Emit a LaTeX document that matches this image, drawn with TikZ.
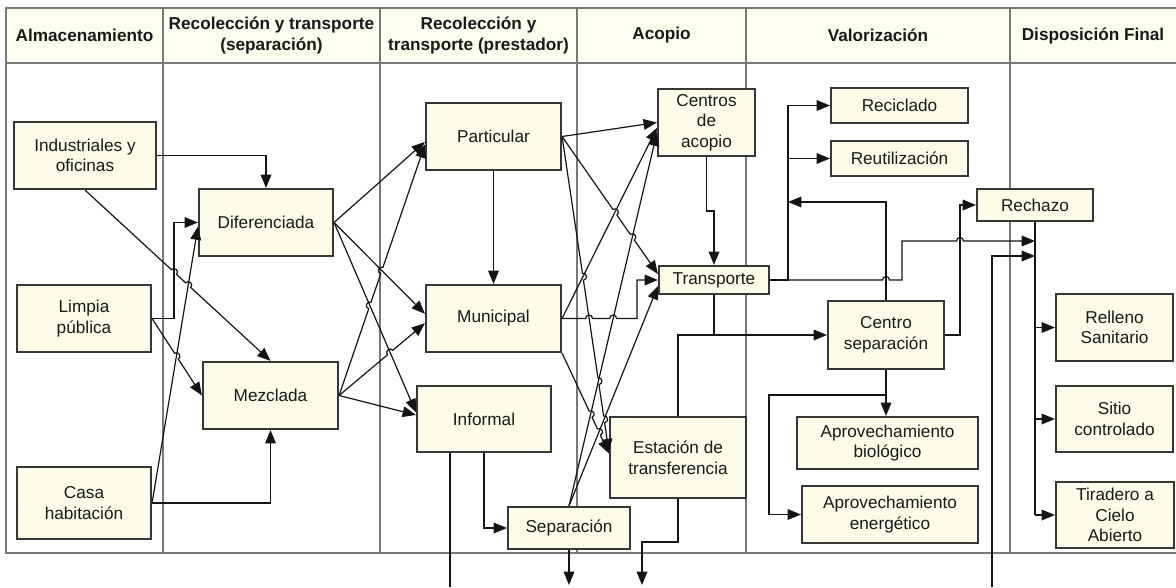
\documentclass[tikz,border=0pt]{standalone}
\usepackage{fontspec}
\setmainfont{Liberation Sans}
\usetikzlibrary{calc,arrows.meta,shadows}
\definecolor{nodefill}{RGB}{252,252,232}
\definecolor{headfill}{RGB}{255,255,240}
\definecolor{gridc}{RGB}{120,120,120}
\definecolor{edgec}{RGB}{55,55,55}
\definecolor{linec}{RGB}{20,20,20}
\definecolor{txt}{RGB}{25,25,25}
\newcommand\mkhop[3]{%
  \coordinate (#1a) at ($(#1)!2.6pt!(#2)$);
  \coordinate (#1b) at ($(#1)!2.6pt!(#3)$);
  \coordinate (#1c) at ($(#1a)!0.667!90:(#1b)$);
  \coordinate (#1d) at ($(#1b)!0.667!-90:(#1a)$);}
\newcommand\hop[1]{-- (#1a) .. controls (#1c) and (#1d) .. (#1b)}
\begin{document}
\begin{tikzpicture}[x=0.75pt,y=-0.75pt,
  box/.style={draw=edgec,line width=1.6pt,fill=nodefill,align=center,text=txt,inner sep=1pt,
    font=\fontsize{12.9}{15.5}\selectfont,
    drop shadow={shadow xshift=1pt,shadow yshift=-1pt,opacity=0.3}},
  sz/.style 2 args={minimum width=#1*0.75pt,minimum height=#2*0.75pt},
  head/.style={align=center,font=\bfseries\fontsize{12.9}{16}\selectfont,text=txt},
  arr/.style={draw=linec,line width=0.9pt,-{Triangle[length=10pt,width=8pt]}},
  ln/.style={draw=linec,line width=0.9pt},
  grid/.style={draw=gridc,line width=1pt}]
\useasboundingbox (0,0) rectangle (1176,587);
% table
\fill[headfill] (6,8) rectangle (1176,63);
\draw[grid] (1176,8) -- (6,8) -- (6,553) -- (1176,553);
\foreach \x in {163,380,577,746,1010} \draw[grid] (\x,8) -- (\x,553);
\draw[gridc,line width=1.8pt] (6,63) -- (1176,63);
\node[head] (hA) at (84.5,35.5) {Almacenamiento};
\node[head] (hB) at (271.5,35.5) {Recolección y transporte\\(separación)};
\node[head] (hC) at (478.5,35.5) {Recolección y\\transporte (prestador)};
\node[head] (hD) at (661.5,35.5) {Acopio};
\node[head] (hE) at (878,35.5) {Valorización};
\node[head] (hF) at (1093,35.5) {Disposición Final};
% nodes
\node[box,sz={142}{67}] (I) at (85,155.5) {Industriales y\\oficinas};
\node[box,sz={134}{67}] (L) at (84,318.5) {Limpia\\pública};
\node[box,sz={134}{72}] (C) at (84,503) {Casa\\habitación};
\node[box,sz={134}{67}] (D) at (266,222.5) {Diferenciada};
\node[box,sz={135}{67}] (Mz) at (270.5,395.5) {Mezclada};
\node[box,sz={135}{67}] (P) at (493.5,136.5) {Particular};
\node[box,sz={135}{67}] (M) at (493.5,318.5) {Municipal};
\node[box,sz={134}{66}] (Inf) at (484,419) {Informal};
\node[box,sz={122}{42}] (S) at (569,528) {Separación};
\node[box,sz={97}{67}] (CA) at (706.5,122.5) {Centros\\de\\acopio};
\node[box,sz={110}{28}] (T) at (714,280) {Transporte};
\node[box,sz={136}{81}] (E) at (678,457.5) {Estación de\\transferencia};
\node[box,sz={137}{35}] (Rc) at (899.5,105.5) {Reciclado};
\node[box,sz={137}{35}] (Ru) at (899.5,158.5) {Reutilización};
\node[box,sz={116}{32}] (Rz) at (1035,205) {Rechazo};
\node[box,sz={116}{68}] (CS) at (886,335) {Centro\\separación};
\node[box,sz={181}{52}] (AB) at (887.5,443) {Aprovechamiento\\biológico};
\node[box,sz={176}{57}] (AE) at (890,514.5) {Aprovechamiento\\energético};
\node[box,sz={117}{67}] (RS) at (1114.5,327.5) {Relleno\\Sanitario};
\node[box,sz={117}{66}] (SI) at (1114.5,419) {Sitio\\controlado};
\node[box,sz={118}{66}] (TA) at (1115,515) {Tiradero a\\Cielo\\Abierto};
% ---- left zone
\draw[arr] (I.east) -| (D.north);
\coordinate (ld1) at (174,318.5);
\coordinate (ld2) at (174,222.5);
\draw[arr] (L.east) -- (ld1) -- (ld2) -- (D.west);
\coordinate (cdE) at ([yshift=-3pt]D.west);
\draw[arr] (C.east) -- (cdE);
\draw[arr] (C.east) -| (Mz.south);
\coordinate (j1) at (intersection of I.south--Mz.north and ld1--ld2);
\coordinate (j2) at (intersection of I.south--Mz.north and C.east--cdE);
\mkhop{j1}{I.south}{Mz.north}
\mkhop{j2}{I.south}{Mz.north}
\draw[arr] (I.south) \hop{j1} \hop{j2} -- (Mz.north);
\coordinate (j3) at (intersection of L.east--Mz.west and C.east--cdE);
\mkhop{j3}{L.east}{Mz.west}
\draw[arr] (L.east) \hop{j3} -- (Mz.west);
% ---- middle zone 1
\coordinate (dp) at ([yshift=-4pt]P.west);
\coordinate (mp) at ([yshift=-6pt]P.west);
\coordinate (dm) at ([yshift=3.5pt]M.west);
\coordinate (mm) at ([yshift=-3.5pt]M.west);
\coordinate (di) at ([yshift=5pt]Inf.west);
\coordinate (mi) at ([yshift=3pt]Inf.west);
\draw[arr] (D.east) -- (dp);
\draw[arr] (D.east) -- (dm);
\draw[arr] (D.east) -- (di);
\coordinate (j4) at (intersection of Mz.east--mp and D.east--di);
\coordinate (j5) at (intersection of Mz.east--mp and D.east--dm);
\coordinate (j6) at (intersection of Mz.east--mm and D.east--di);
\mkhop{j4}{Mz.east}{mp}
\mkhop{j5}{Mz.east}{mp}
\mkhop{j6}{Mz.east}{mm}
\draw[arr] (Mz.east) \hop{j4} \hop{j5} -- (mp);
\draw[arr] (Mz.east) \hop{j6} -- (mm);
\draw[arr] (Mz.east) -- (mi);
% ---- middle zone 2
\draw[arr] (P.south) -- (M.north);
\coordinate (cMC) at ([yshift=-4pt]CA.west);
\coordinate (cSC) at ([yshift=-7.5pt]CA.west);
\coordinate (cPT) at ([yshift=4.5pt]T.west);
\coordinate (cST) at ([yshift=-4.5pt]T.west);
\coordinate (cPE) at ([yshift=4pt]E.west);
\coordinate (cME) at ([yshift=3pt]E.west);
\coordinate (mse) at (M.south east);
\coordinate (mt1) at (637,318.5);
\coordinate (mt2) at (637,280);
\draw[arr] (P.east) -- (CA.west);
\draw[arr] (M.east) -- (cMC);
\draw[arr] (S.north) -- (cSC);
\draw[arr] (S.north) -- (cST);
\coordinate (j7) at (intersection of P.east--cPT and M.east--cMC);
\coordinate (j8) at (intersection of P.east--cPT and S.north--cSC);
\mkhop{j7}{P.east}{cPT}
\mkhop{j8}{P.east}{cPT}
\draw[arr] (P.east) \hop{j7} \hop{j8} -- (cPT);
\coordinate (j9) at (intersection of P.east--cPE and M.east--cMC);
\coordinate (j10) at (intersection of P.east--cPE and S.north--cSC);
\coordinate (j11) at (intersection of P.east--cPE and S.north--cST);
\mkhop{j9}{P.east}{cPE}
\mkhop{j10}{P.east}{cPE}
\mkhop{j11}{P.east}{cPE}
\draw[arr] (P.east) \hop{j9} \hop{j10} \hop{j11} -- (cPE);
\coordinate (j12) at (intersection of M.east--mt1 and P.east--cPE);
\coordinate (j13) at (intersection of M.east--mt1 and S.north--cSC);
\mkhop{j12}{M.east}{mt1}
\mkhop{j13}{M.east}{mt1}
\draw[arr] (M.east) \hop{j12} \hop{j13} -- (mt1) -- (mt2) -- (T.west);
\coordinate (j14) at (intersection of mse--cME and S.north--cSC);
\coordinate (j15) at (intersection of mse--cME and S.north--cST);
\mkhop{j14}{mse}{cME}
\mkhop{j15}{mse}{cME}
\draw[arr] (mse) \hop{j14} \hop{j15} -- (cME);
\coordinate (ct) at (710,211);
\draw[arr] (CA.south) |- (ct) -| (T.north);
% ---- right zone
\coordinate (busV) at (788,280);
\draw[arr] (T.east) -- (busV) |- (Rc.west);
\draw[arr] (busV |- Ru.west) -- (Ru.west);
\coordinate (k1) at (902,280);
\coordinate (k2) at (902,241);
\coordinate (k3) at (k2 -| Rz.south);
\coordinate (crz) at (960,205);
\coordinate (j16) at (CS.north |- T.east);
\coordinate (j17) at (crz |- k2);
\mkhop{j16}{T.east}{k1}
\mkhop{j17}{k2}{k3}
\draw[arr] (T.east) \hop{j16} -- (k1) -- (k2) \hop{j17} -- (k3);
\coordinate (q) at (788,202);
\draw[arr] (CS.north) |- (q);
\draw[arr] (CS.east) -| (crz) -- (Rz.west);
\draw[arr] (CS.south) -- (CS.south |- AB.north);
\coordinate (ae1) at (886,395);
\coordinate (ae2) at (769,395);
\draw[arr] (ae1) -- (ae2) |- (AE.west);
\coordinate (tb) at (T.south |- CS.west);
\draw[arr] (T.south) -- (tb) -- (CS.west);
\draw[ln] (E.north) |- (tb);
\draw[ln] (Rz.south) -- (Rz.south |- TA.west);
\draw[arr] (Rz.south |- RS.west) -- (RS.west);
\draw[arr] (Rz.south |- SI.west) -- (SI.west);
\draw[arr] (Rz.south |- TA.west) -- (TA.west);
\coordinate (bin) at (992,587);
\coordinate (b2) at (992,256);
\draw[arr] (bin) -- (b2) -- (b2 -| Rz.south);
% ---- bottom exits
\coordinate (infout) at (450,587);
\draw[ln] ([xshift=-25.5pt]Inf.south) -- (infout);
\draw[arr] (Inf.south) |- (S.west);
\coordinate (sout) at (569,585);
\draw[arr] (S.south) -- (sout);
\coordinate (e1) at (678,542);
\coordinate (e2) at (642,542);
\coordinate (eout) at (642,585);
\draw[arr] (E.south) -- (e1) -- (e2) -- (eout);
\end{tikzpicture}
\end{document}
